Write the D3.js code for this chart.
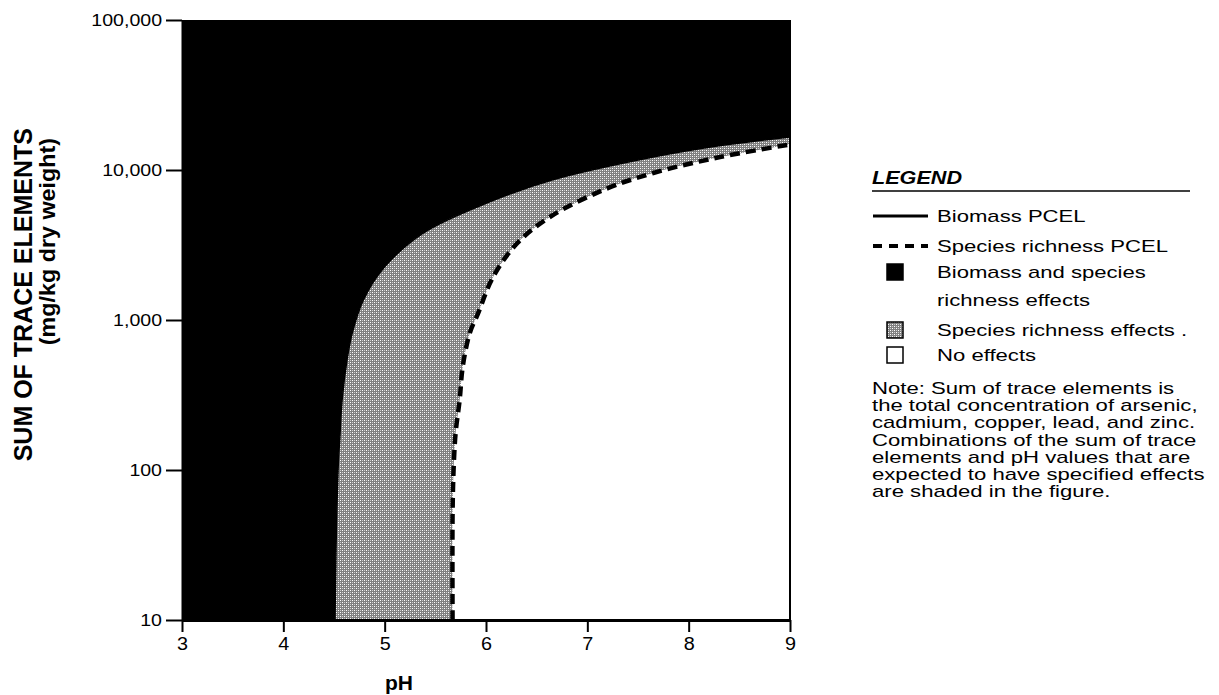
<!DOCTYPE html>
<html>
<head>
<meta charset="utf-8">
<script src="https://cdn.jsdelivr.net/npm/d3@7"></script>
<style>
  body { margin: 0; background: #fff; }
  svg { display: block; font-family: "Liberation Sans", Arial, Helvetica, sans-serif; }
</style>
</head>
<body>
<div id="chart"></div>
<script>
// axis ticks
var phTicks = [3, 4, 5, 6, 7, 8, 9];
var traceTicks = [10, 100, 1000, 10000, 100000];

// Biomass PCEL (boundary black / gray)
var biomassPH  = [4.51, 4.52, 4.54, 4.56, 4.58, 4.63, 4.68, 4.79, 5.0, 5.38, 6.0, 6.66, 7.65, 8.3, 9.0];
var biomassSum = [10, 30, 100, 176, 293, 550, 819, 1360, 2260, 3800, 6000, 8600, 12200, 14500, 16600];

// Species richness PCEL (dashed boundary gray / white)
var richnessPH  = [5.67, 5.67, 5.68, 5.70, 5.74, 5.77, 5.84, 5.92, 6.07, 6.31, 6.63, 7.16, 7.65, 8.31, 9.0];
var richnessSum = [10, 50, 100, 176, 293, 486, 819, 1100, 1935, 3260, 4860, 7360, 9550, 12200, 14800];

var legendLabels = [
    ['Biomass PCEL'],
    ['Species richness PCEL'],
    ['Biomass and species', 'richness effects'],
    ['Species richness effects .'],
    ['No effects']
];

var noteLines = [
    'Note:  Sum of trace elements is',
    'the total concentration of arsenic,',
    'cadmium, copper, lead, and zinc.',
    'Combinations of the sum of trace',
    'elements and pH values that are',
    'expected to have specified effects',
    'are shaded in the figure.'
];

var W = 1219, H = 695;
var plot = { left: 182, right: 790, top: 20, bottom: 620 };

var svg = d3.select('#chart').append('svg')
    .attr('width', W)
    .attr('height', H);

// the scanned lettering runs wider than Arial, stretch it a bit
function widen(sel, k) {
    sel.each(function() {
        var len = this.getComputedTextLength();
        d3.select(this)
            .attr('textLength', len * k)
            .attr('lengthAdjust', 'spacingAndGlyphs');
    });
}

var defs = svg.append('defs');
var pat = defs.append('pattern')
    .attr('id', 'stipple')
    .attr('width', 4)
    .attr('height', 4)
    .attr('patternUnits', 'userSpaceOnUse');
pat.append('rect').attr('width', 4).attr('height', 4).attr('fill', '#808080');
pat.append('rect').attr('x', 0).attr('y', 0).attr('width', 1).attr('height', 1).attr('fill', '#fff');
pat.append('rect').attr('x', 2).attr('y', 2).attr('width', 1).attr('height', 1).attr('fill', '#fff');
pat.append('rect').attr('x', 2).attr('y', 0).attr('width', 1).attr('height', 1).attr('fill', '#ccc');
pat.append('rect').attr('x', 0).attr('y', 2).attr('width', 1).attr('height', 1).attr('fill', '#ccc');

defs.append('clipPath').attr('id', 'plotclip')
    .append('rect')
    .attr('x', plot.left).attr('y', plot.top)
    .attr('width', plot.right - plot.left)
    .attr('height', plot.bottom - plot.top);

var x = d3.scaleLinear().domain([3, 9]).range([plot.left, plot.right]);
var y = d3.scaleLog().domain([10, 100000]).range([plot.bottom, plot.top]);

var biomass = biomassPH.map(function(d, i) { return [d, biomassSum[i]]; });
var richness = richnessPH.map(function(d, i) { return [d, richnessSum[i]]; });

var line = d3.line()
    .x(function(d) { return x(d[0]); })
    .y(function(d) { return y(d[1]); })
    .curve(d3.curveCatmullRom.alpha(0.5));

// continue an open path with another line() path
function joinPath(d) { return ' L' + d.slice(1); }

var regions = svg.append('g').attr('clip-path', 'url(#plotclip)');

// black: everything above/left of the biomass curve
var blackPath = 'M' + x(3) + ',' + y(10) + ' L' + x(3) + ',' + y(100000) +
    ' L' + x(9) + ',' + y(100000) +
    joinPath(line(biomass.slice().reverse())) + ' Z';
regions.append('path')
    .attr('d', blackPath)
    .attr('fill', '#000');

// gray: between the two curves
var grayPath = line(biomass) + joinPath(line(richness.slice().reverse())) + ' Z';
regions.append('path')
    .attr('d', grayPath)
    .attr('fill', 'url(#stipple)');

regions.append('path')
    .attr('d', line(biomass))
    .attr('fill', 'none')
    .attr('stroke', '#000')
    .attr('stroke-width', 1.5);

regions.append('path')
    .attr('d', line(richness))
    .attr('fill', 'none')
    .attr('stroke', '#000')
    .attr('stroke-width', 4.5)
    .attr('stroke-dasharray', '10,6');

// right border
svg.append('line')
    .attr('x1', plot.right).attr('x2', plot.right)
    .attr('y1', plot.top).attr('y2', plot.bottom)
    .attr('stroke', '#000').attr('stroke-width', 2);

// Axes
var yAxis = svg.append('g')
    .attr('transform', 'translate(' + plot.left + ',0)')
    .call(d3.axisLeft(y).tickValues(traceTicks).tickFormat(d3.format(','))
        .tickSize(16).tickSizeOuter(0).tickPadding(4));
yAxis.select('.domain').attr('stroke-width', 2);
yAxis.selectAll('.tick line').attr('stroke-width', 2);
yAxis.selectAll('.tick text')
    .attr('font-size', 17)
    .attr('fill', '#000')
    .attr('font-family', '"Liberation Sans", Arial, sans-serif')
    .call(widen, 1.15);

var xAxis = svg.append('g')
    .attr('transform', 'translate(0,' + plot.bottom + ')')
    .call(d3.axisBottom(x).tickValues(phTicks).tickFormat(d3.format('d'))
        .tickSize(12).tickSizeOuter(0).tickPadding(5));
xAxis.select('.domain').attr('stroke-width', 3);
xAxis.selectAll('.tick line').attr('stroke-width', 2);
xAxis.selectAll('.tick text')
    .attr('font-size', 18)
    .attr('fill', '#000')
    .attr('font-family', '"Liberation Sans", Arial, sans-serif')
    .call(widen, 1.1);

// Axis titles
svg.append('text')
    .attr('x', 399).attr('y', 690)
    .attr('text-anchor', 'middle')
    .attr('font-size', 21)
    .attr('font-weight', 'bold')
    .text('pH');

var yTitle = svg.append('g').attr('transform', 'rotate(-90)');
yTitle.append('text')
    .attr('x', -128).attr('y', 32)
    .attr('text-anchor', 'end')
    .attr('font-size', 25)
    .attr('font-weight', 'bold')
    .text('SUM OF TRACE ELEMENTS');
yTitle.append('text')
    .attr('x', -138).attr('y', 55)
    .attr('text-anchor', 'end')
    .attr('font-size', 22)
    .attr('font-weight', 'bold')
    .text('(mg/kg dry weight)')
    .call(widen, 1.06);

// Legend
var lg = svg.append('g').attr('class', 'legend');
lg.append('text')
    .attr('x', 872).attr('y', 184)
    .attr('font-size', 18)
    .attr('font-weight', 'bold')
    .attr('font-style', 'italic')
    .text('LEGEND')
    .call(widen, 1.2);
lg.append('line')
    .attr('x1', 872).attr('x2', 1190)
    .attr('y1', 191).attr('y2', 191)
    .attr('stroke', '#000').attr('stroke-width', 1.5);

var rowY = [216, 246, 272, 330, 355];

lg.append('line')
    .attr('x1', 873).attr('x2', 928)
    .attr('y1', rowY[0]).attr('y2', rowY[0])
    .attr('stroke', '#000').attr('stroke-width', 3);
lg.append('line')
    .attr('x1', 873).attr('x2', 928)
    .attr('y1', rowY[1]).attr('y2', rowY[1])
    .attr('stroke', '#000').attr('stroke-width', 4)
    .attr('stroke-dasharray', '9,7');

var swatchFill = [null, null, '#000', 'url(#stipple)', '#fff'];
[2, 3, 4].forEach(function(i) {
    lg.append('rect')
        .attr('x', 887).attr('y', rowY[i] - 8)
        .attr('width', 16).attr('height', 16)
        .attr('fill', swatchFill[i])
        .attr('stroke', '#000')
        .attr('stroke-width', 1.5);
});

legendLabels.forEach(function(lines, i) {
    lines.forEach(function(t, j) {
        lg.append('text')
            .attr('x', 937)
            .attr('y', rowY[i] + 6 + j * 28)
            .attr('font-size', 17)
            .text(t)
            .call(widen, 1.3);
    });
});

// Note
var note = svg.append('g');
noteLines.forEach(function(t, i) {
    note.append('text')
        .attr('x', 872)
        .attr('y', 394 + i * 17.2)
        .attr('font-size', 17)
        .text(t)
        .call(widen, 1.3);
});
</script>
</body>
</html>
